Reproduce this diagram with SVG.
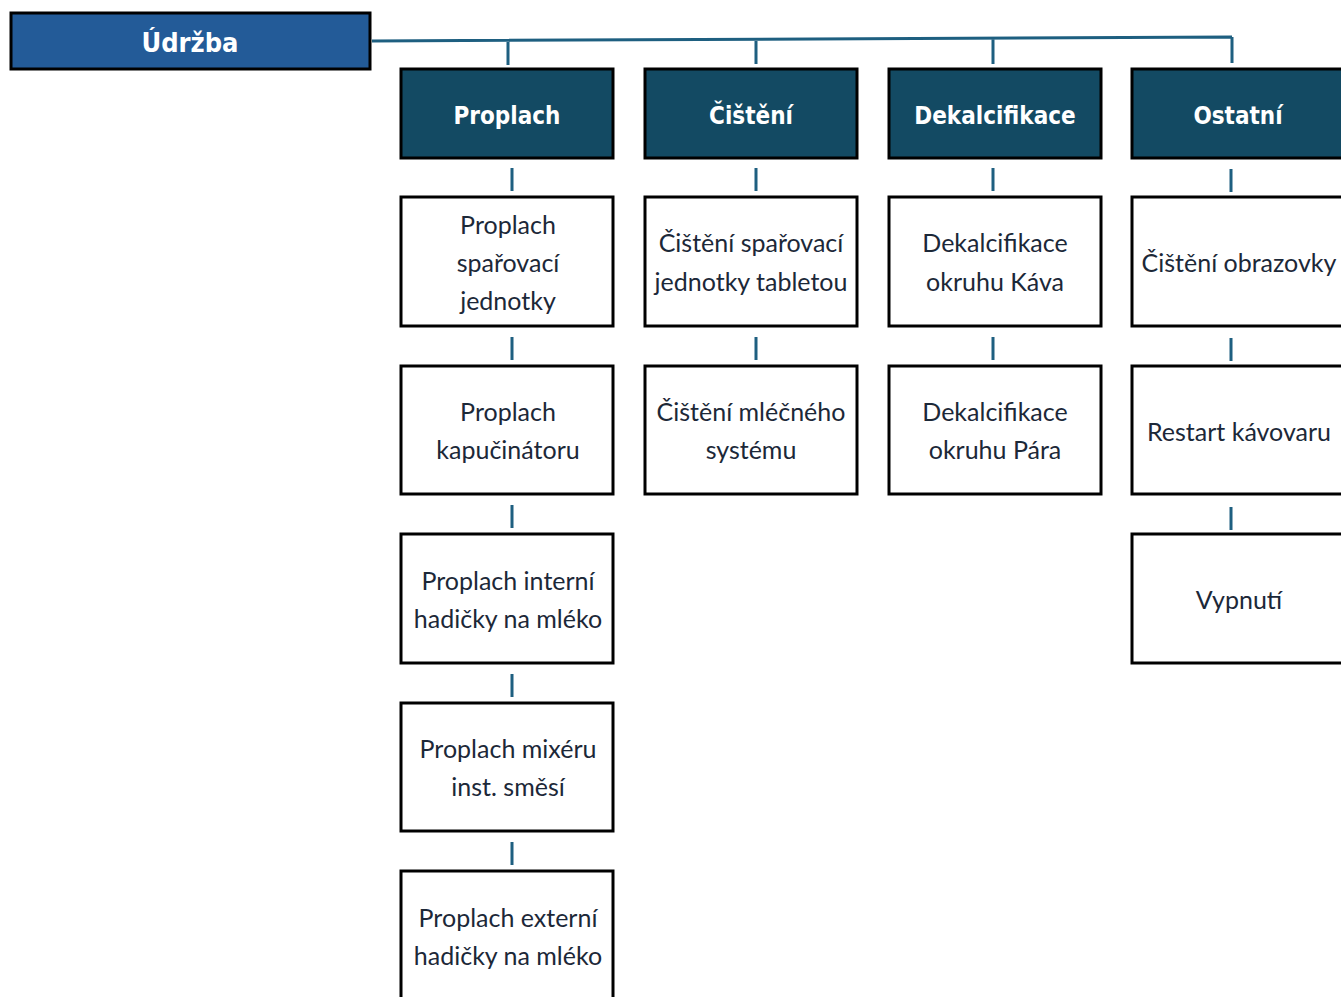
<svg xmlns="http://www.w3.org/2000/svg" width="1341" height="997" viewBox="0 0 1341 997">
<style>
.root{fill:#235B98;stroke:#000;stroke-width:3}
.hdr{fill:#134A63;stroke:#000;stroke-width:3}
.box{fill:#fff;stroke:#000;stroke-width:3}
.ht{font-family:"DejaVu Sans Condensed","DejaVu Sans",sans-serif;font-weight:bold;font-size:24px;fill:#fff;text-anchor:middle}
.bt{font-family:Lato,"Open Sans",sans-serif;font-size:25px;fill:#1c2838;text-anchor:middle}
.con{stroke:#1E5F80;stroke-width:3;fill:none}
</style>
<rect width="1341" height="997" fill="#fff"/>
<g id="connectors">
<path class="con" d="M372 41 L1232 37 M508 41 V65 M756 40 V64 M993 39 V64 M1232 37 V63"/>
<path class="con" d="M512 168 V191 M512 337 V360 M512 505 V528 M512 674 V697 M512 842 V865"/>
<path class="con" d="M756 168 V191 M756 337 V360"/>
<path class="con" d="M993 168 V191 M993 337 V360"/>
<path class="con" d="M1231 169 V192 M1231 338 V361 M1231 507 V530"/>
</g>
<g id="udrzba"><rect class="root" x="11" y="13" width="359" height="56"/><text class="ht" x="190" y="52" style="font-size:27px">Údržba</text></g>
<g id="h-proplach"><rect class="hdr" x="401" y="69" width="212" height="89"/><text class="ht" x="507" y="124">Proplach</text></g>
<g id="h-cisteni"><rect class="hdr" x="645" y="69" width="212" height="89"/><text class="ht" x="751" y="124">Čištění</text></g>
<g id="h-dekalc"><rect class="hdr" x="889" y="69" width="212" height="89"/><text class="ht" x="995" y="124">Dekalcifikace</text></g>
<g id="h-ostatni"><rect class="hdr" x="1132" y="69" width="212" height="89"/><text class="ht" x="1238" y="124">Ostatní</text></g>

<g id="p1"><rect class="box" x="401" y="197" width="212" height="129"/><text class="bt" x="508"><tspan x="508" y="234">Proplach</tspan><tspan x="508" y="272">spařovací</tspan><tspan x="508" y="310">jednotky</tspan></text></g>
<g id="p2"><rect class="box" x="401" y="366" width="212" height="128"/><text class="bt"><tspan x="508" y="421">Proplach</tspan><tspan x="508" y="459">kapučinátoru</tspan></text></g>
<g id="p3"><rect class="box" x="401" y="534" width="212" height="129"/><text class="bt"><tspan x="508" y="590">Proplach interní</tspan><tspan x="508" y="628">hadičky na mléko</tspan></text></g>
<g id="p4"><rect class="box" x="401" y="703" width="212" height="128"/><text class="bt"><tspan x="508" y="758">Proplach mixéru</tspan><tspan x="508" y="796">inst. směsí</tspan></text></g>
<g id="p5"><rect class="box" x="401" y="871" width="212" height="140"/><text class="bt"><tspan x="508" y="927">Proplach externí</tspan><tspan x="508" y="965">hadičky na mléko</tspan></text></g>

<g id="c1"><rect class="box" x="645" y="197" width="212" height="129"/><text class="bt"><tspan x="751" y="252">Čištění spařovací</tspan><tspan x="751" y="291">jednotky tabletou</tspan></text></g>
<g id="c2"><rect class="box" x="645" y="366" width="212" height="128"/><text class="bt"><tspan x="751" y="421">Čištění mléčného</tspan><tspan x="751" y="459">systému</tspan></text></g>

<g id="d1"><rect class="box" x="889" y="197" width="212" height="129"/><text class="bt"><tspan x="995" y="252">Dekalcifikace</tspan><tspan x="995" y="291">okruhu Káva</tspan></text></g>
<g id="d2"><rect class="box" x="889" y="366" width="212" height="128"/><text class="bt"><tspan x="995" y="421">Dekalcifikace</tspan><tspan x="995" y="459">okruhu Pára</tspan></text></g>

<g id="o1"><rect class="box" x="1132" y="197" width="212" height="129"/><text class="bt" x="1239" y="272">Čištění obrazovky</text></g>
<g id="o2"><rect class="box" x="1132" y="366" width="212" height="128"/><text class="bt" x="1239" y="441">Restart kávovaru</text></g>
<g id="o3"><rect class="box" x="1132" y="534" width="212" height="129"/><text class="bt" x="1239" y="609">Vypnutí</text></g>
</svg>
